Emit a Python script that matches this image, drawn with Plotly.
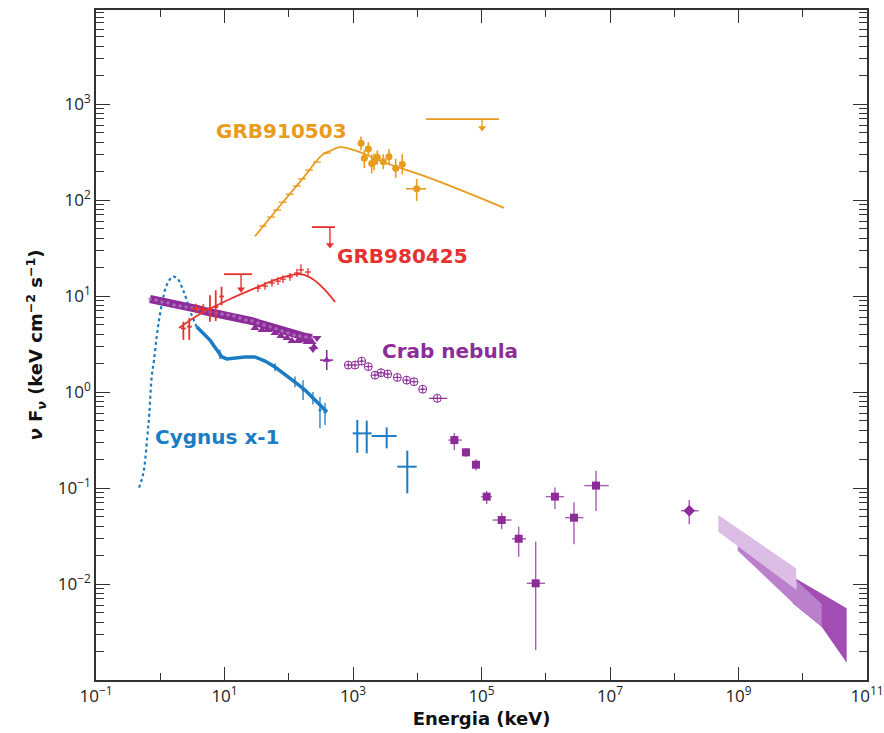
import numpy as np
import plotly.graph_objects as go

# ---------------- data (keV, keV cm^-2 s^-1) ----------------
# GRB910503
grb91_model_E = [29.9, 81, 167, 329, 438, 628, 1150, 2930, 15800, 224000]
grb91_model_F = [42, 95, 169, 294, 324, 356, 324, 249, 169, 83]
grb91_low_E = [39.7, 53, 65.7, 81, 104, 134, 161, 207, 275, 394]
grb91_low_F = [53.6, 66.5, 78.7, 95, 115, 140, 166, 205, 249, 309]
grb91_low_Elo = [35, 46, 57, 70, 90, 116, 140, 180, 240, 342]
grb91_low_Ehi = [45, 61, 76, 93, 120, 154, 185, 238, 316, 453]
grb91_E = [1334, 1730, 1500, 1954, 2123, 2390, 2963, 3631, 4620, 5850, 9800]
grb91_F = [390, 340, 272, 241, 251, 279, 251, 283, 214, 236, 131]
grb91_Elo = [1200, 1560, 1350, 1760, 1910, 2150, 2670, 3270, 4160, 5270, 6680]
grb91_Ehi = [1480, 1920, 1670, 2170, 2360, 2650, 3290, 4030, 5130, 6490, 13700]
grb91_Flo = [330, 290, 215, 190, 205, 235, 210, 235, 170, 185, 98]
grb91_Fhi = [460, 400, 330, 300, 305, 330, 300, 340, 270, 300, 166]
grb91_ul_Elo = [13700]
grb91_ul_Ehi = [187000]
grb91_ul_F = [698]
grb91_ul_Earrow = [102000]
grb91_ul_Fend = [563]

# GRB980425
grb98_model_E = [1.96, 4.16, 12.2, 35.7, 73.1, 150, 238, 394, 525]
grb98_model_F = [4.64, 6.49, 9.31, 12.7, 15.4, 16.9, 15.0, 11.0, 8.66]
grb98_a_E = [2.29, 2.83, 3.6, 4.68, 5.94, 7.3, 9.0]
grb98_a_F = [4.6, 4.8, 7.4, 7.3, 7.4, 7.7, 9.9]
grb98_a_Elo = [2.1, 2.6, 3.0, 4.2, 5.4, 6.7, 8.3]
grb98_a_Ehi = [2.5, 3.1, 4.3, 5.2, 6.5, 8.0, 9.8]
grb98_a_Flo = [3.5, 3.5, 6.6, 6.5, 5.4, 5.5, 8.0]
grb98_a_Fhi = [5.4, 5.9, 8.3, 8.2, 10.2, 11.5, 12.5]
grb98_b_E = [33.2, 42.7, 54.8, 68, 81.3, 104.5, 134, 155, 199]
grb98_b_F = [12.1, 12.7, 13.7, 14.3, 15.0, 15.8, 17.4, 18.7, 17.8]
grb98_b_Elo = [30, 38.5, 49.4, 61.3, 73.3, 94, 121, 140, 179]
grb98_b_Ehi = [36.8, 47.4, 60.8, 75.5, 90.2, 116, 149, 172, 221]
grb98_b_Flo = [11.0, 11.6, 12.5, 13.0, 13.7, 14.4, 15.8, 16.5, 16.2]
grb98_b_Fhi = [13.3, 14.0, 15.1, 15.7, 16.5, 17.4, 19.1, 21.5, 19.6]
grb98_ul_Elo = [9.8, 230]
grb98_ul_Ehi = [26.8, 525]
grb98_ul_F = [16.9, 52.3]
grb98_ul_Earrow = [18.1, 438]
grb98_ul_Fend = [11.8, 34]

# Crab nebula
crab_band_E = [0.692, 0.859, 1.06, 1.32, 1.64, 2.03, 2.52, 3.12, 3.87, 4.80, 5.94, 7.38,
               9.15, 11.3, 14.1, 17.4, 21.6, 26.8, 33.2, 41.2, 51.1, 63.3, 78.5, 97.3,
               121, 150, 185, 230]
crab_band_F = [9.31, 9.08, 8.66, 8.45, 8.05, 7.86, 7.68, 7.50, 7.32, 6.98, 6.81, 6.65,
               6.49, 6.34, 6.19, 5.90, 5.62, 5.49, 5.24, 4.99, 4.76, 4.53, 4.32, 4.12,
               3.92, 3.83, 3.74, 3.65]
crab_tri_E = [29.8, 38.4, 47.5, 61.1, 75.7, 94, 112, 139, 161, 192, 230, 247]
crab_tri_F = [4.64, 4.43, 4.43, 4.12, 3.83, 3.65, 3.40, 3.40, 3.48, 3.32, 3.32, 2.94]
crab_tridown_E = [275, 238]
crab_tridown_F = [3.65, 2.81]
crab_x_E = [390]
crab_x_F = [2.15]
crab_x_Elo = [306]
crab_x_Ehi = [489]
crab_x_Flo = [1.69]
crab_x_Fhi = [2.74]
crab_circ_E = [845, 1075, 1365, 1730, 2198, 2727, 3467, 4896, 6855, 8896, 12150, 20500]
crab_circ_F = [1.91, 1.91, 2.10, 1.84, 1.50, 1.59, 1.54, 1.42, 1.33, 1.28, 1.07, 0.86]
crab_circ_Elo = [800, 1020, 1300, 1640, 2090, 2590, 3290, 4650, 6500, 8450, 11500, 15240]
crab_circ_Ehi = [890, 1130, 1430, 1820, 2310, 2870, 3650, 5150, 7220, 9370, 12800, 29400]
crab_sq_E = [37800, 57400, 82000, 120500, 206000, 379000, 697000, 1.39e6, 2.75e6, 6.06e6]
crab_sq_F = [0.316, 0.2355, 0.175, 0.0813, 0.0464, 0.0296, 0.01017, 0.0813, 0.0491, 0.106]
crab_sq_Elo = [30400, 49800, 74000, 98000, 149000, 298000, 505000, 998000, 2.0e6, 3.98e6]
crab_sq_Ehi = [49200, 66200, 91000, 145600, 295000, 493000, 973000, 1.92e6, 3.85e6, 9.55e6]
crab_sq_Flo = [0.249, 0.21, 0.152, 0.068, 0.0372, 0.0192, 0.00205, 0.0604, 0.0259, 0.0575]
crab_sq_Fhi = [0.374, 0.261, 0.200, 0.093, 0.0553, 0.0396, 0.0276, 0.101, 0.071, 0.151]
crab_dia_E = [1.71e8]
crab_dia_F = [0.058]
crab_dia_Elo = [1.27e8]
crab_dia_Ehi = [2.4e8]
crab_dia_Flo = [0.0419]
crab_dia_Fhi = [0.075]
# Fermi bow-ties (polygon vertices)
fermi_light_E = [4.85e8, 7.85e9, 8.05e9, 4.85e8]
fermi_light_F = [0.0524, 0.01458, 0.00866, 0.0351]
fermi_mid_E = [9.73e8, 7.85e9, 1.97e10, 1.97e10, 6.97e9, 9.73e8]
fermi_mid_F = [0.0255, 0.0110, 0.0062, 0.00359, 0.00638, 0.0222]
fermi_dark_E = [6.97e9, 4.83e10, 4.83e10, 1.97e10, 6.97e9]
fermi_dark_F = [0.0119, 0.00558, 0.00151, 0.00359, 0.0063]

# Cygnus X-1
cyg_dot_E = [0.467, 0.545, 0.629, 0.676, 0.736, 0.80, 0.881, 0.967, 1.09, 1.26, 1.56,
             1.84, 2.16, 2.43, 2.73, 3.09, 3.69]
cyg_dot_F = [0.1007, 0.142, 0.342, 0.600, 1.44, 2.15, 3.77, 5.86, 9.08, 13.0, 15.9,
             15.3, 12.5, 10.2, 8.05, 6.34, 4.79]
cyg_E = [3.69, 4.97, 5.94, 6.7, 7.92, 9.15, 10.9, 14.6, 20.8, 29.8, 42.7, 61.1, 87.5,
         125, 179, 238, 306, 394]
cyg_F = [4.79, 3.92, 3.48, 3.09, 2.61, 2.32, 2.21, 2.26, 2.32, 2.32, 2.10, 1.82, 1.50,
         1.27, 1.05, 0.866, 0.733, 0.619]
cyg_err_E = [8.5, 61, 125, 167, 238, 306, 367]
cyg_err_F = [2.45, 1.82, 1.27, 1.05, 0.866, 0.649, 0.619]
cyg_err_Flo = [2.2, 1.65, 1.12, 0.826, 0.74, 0.42, 0.453]
cyg_err_Fhi = [2.75, 2.0, 1.45, 1.33, 1.0, 0.887, 0.77]
cyg_hi_E = [1167, 1634, 3342, 7000]
cyg_hi_F = [0.371, 0.371, 0.348, 0.1668]
cyg_hi_Elo = [988, 1415, 1954, 4890]
cyg_hi_Ehi = [1415, 1954, 4785, 9795]
cyg_hi_Flo = [0.233, 0.230, 0.259, 0.0881]
cyg_hi_Fhi = [0.511, 0.503, 0.428, 0.245]

# Tick labels
x_tickvals = [1e-1, 1e1, 1e3, 1e5, 1e7, 1e9, 1e11]
x_ticktext = ['10<sup>−1</sup>', '10<sup>1</sup>', '10<sup>3</sup>', '10<sup>5</sup>',
              '10<sup>7</sup>', '10<sup>9</sup>', '10<sup>11</sup>']
y_tickvals = [1e-2, 1e-1, 1e0, 1e1, 1e2, 1e3]
y_ticktext = ['10<sup>−2</sup>', '10<sup>−1</sup>', '10<sup>0</sup>', '10<sup>1</sup>',
              '10<sup>2</sup>', '10<sup>3</sup>']

# ---------------- style ----------------
ORANGE = '#E89B1C'
RED = '#E5322F'
PURPLE = '#8C2C98'
BLUE = '#1B7CC4'
AXC = '#333333'
LABEL_FONT = 'DejaVu Sans'
TICK_FONT = 'Open Sans'


def err(v, lo, hi, color, th=1.6):
    v = np.asarray(v, float)
    return dict(type='data', symmetric=False,
                array=np.asarray(hi, float) - v,
                arrayminus=v - np.asarray(lo, float),
                color=color, thickness=th, width=0)


fig = go.Figure()

# Fermi bowties
for ex, fy, col in [(fermi_dark_E, fermi_dark_F, '#A24DB4'),
                    (fermi_mid_E, fermi_mid_F, '#BA80CC'),
                    (fermi_light_E, fermi_light_F, '#DCBDE6')]:
    fig.add_trace(go.Scatter(x=ex, y=fy, mode='lines', fill='toself', fillcolor=col,
                             line=dict(width=0, color=col), hoverinfo='skip'))

# Cygnus X-1
fig.add_trace(go.Scatter(x=cyg_dot_E, y=cyg_dot_F, mode='lines',
                         line=dict(color=BLUE, width=2.2, dash='dot', shape='spline')))
fig.add_trace(go.Scatter(x=cyg_E, y=cyg_F, mode='lines',
                         line=dict(color=BLUE, width=3.5)))
fig.add_trace(go.Scatter(x=cyg_err_E, y=cyg_err_F, mode='markers',
                         marker=dict(color=BLUE, size=3),
                         error_y=err(cyg_err_F, cyg_err_Flo, cyg_err_Fhi, BLUE, 1.3)))
fig.add_trace(go.Scatter(x=cyg_hi_E, y=cyg_hi_F, mode='markers',
                         marker=dict(color=BLUE, size=1),
                         error_x=err(cyg_hi_E, cyg_hi_Elo, cyg_hi_Ehi, BLUE, 2),
                         error_y=err(cyg_hi_F, cyg_hi_Flo, cyg_hi_Fhi, BLUE, 2)))

# Crab nebula
fig.add_trace(go.Scatter(x=crab_band_E, y=crab_band_F, mode='lines',
                         line=dict(color=PURPLE, width=8)))
fig.add_trace(go.Scatter(x=crab_band_E, y=crab_band_F, mode='markers',
                         marker=dict(color='#B77AC4', size=3, symbol='cross-thin',
                                     line=dict(color='#B77AC4', width=1))))
fig.add_trace(go.Scatter(x=crab_tri_E, y=crab_tri_F, mode='markers',
                         marker=dict(color=PURPLE, size=8, symbol='triangle-up')))
fig.add_trace(go.Scatter(x=crab_tridown_E, y=crab_tridown_F, mode='markers',
                         marker=dict(color=PURPLE, size=8, symbol='triangle-down')))
fig.add_trace(go.Scatter(x=crab_x_E, y=crab_x_F, mode='markers',
                         marker=dict(color=PURPLE, size=7, symbol='triangle-up'),
                         error_x=err(crab_x_E, crab_x_Elo, crab_x_Ehi, PURPLE),
                         error_y=err(crab_x_F, crab_x_Flo, crab_x_Fhi, PURPLE)))
fig.add_trace(go.Scatter(x=crab_circ_E, y=crab_circ_F, mode='markers',
                         marker=dict(color=PURPLE, size=8, symbol='circle-cross-open',
                                     line=dict(width=1)),
                         error_x=err(crab_circ_E, crab_circ_Elo, crab_circ_Ehi, PURPLE, 1.2)))
fig.add_trace(go.Scatter(x=crab_sq_E, y=crab_sq_F, mode='markers',
                         marker=dict(color=PURPLE, size=8, symbol='square'),
                         error_x=err(crab_sq_E, crab_sq_Elo, crab_sq_Ehi, '#A45DB0', 1.4),
                         error_y=err(crab_sq_F, crab_sq_Flo, crab_sq_Fhi, '#A45DB0', 1.4)))
fig.add_trace(go.Scatter(x=crab_dia_E, y=crab_dia_F, mode='markers',
                         marker=dict(color=PURPLE, size=9, symbol='diamond'),
                         error_x=err(crab_dia_E, crab_dia_Elo, crab_dia_Ehi, '#A45DB0', 1.4),
                         error_y=err(crab_dia_F, crab_dia_Flo, crab_dia_Fhi, '#A45DB0', 1.4)))

# GRB980425
fig.add_trace(go.Scatter(x=grb98_model_E, y=grb98_model_F, mode='lines',
                         line=dict(color=RED, width=1.8, shape='spline')))
fig.add_trace(go.Scatter(x=grb98_a_E, y=grb98_a_F, mode='markers',
                         marker=dict(color=RED, size=1),
                         error_x=err(grb98_a_E, grb98_a_Elo, grb98_a_Ehi, RED, 1.8),
                         error_y=err(grb98_a_F, grb98_a_Flo, grb98_a_Fhi, RED, 1.8)))
fig.add_trace(go.Scatter(x=grb98_b_E, y=grb98_b_F, mode='markers',
                         marker=dict(color=RED, size=1),
                         error_x=err(grb98_b_E, grb98_b_Elo, grb98_b_Ehi, RED, 1.3),
                         error_y=err(grb98_b_F, grb98_b_Flo, grb98_b_Fhi, RED, 1.3)))


def upper_limits(elo, ehi, f, earr, fend, color):
    hx, hy, vx, vy = [], [], [], []
    for a, b, c, d, e in zip(elo, ehi, f, earr, fend):
        hx += [a, b, None]
        hy += [c, c, None]
        vx += [d, d, None]
        vy += [c, e, None]
    fig.add_trace(go.Scatter(x=hx, y=hy, mode='lines', line=dict(color=color, width=1.8)))
    fig.add_trace(go.Scatter(x=vx, y=vy, mode='lines', line=dict(color=color, width=1.4)))
    fig.add_trace(go.Scatter(x=earr, y=fend, mode='markers',
                             marker=dict(color=color, size=7, symbol='triangle-down')))


upper_limits(grb98_ul_Elo, grb98_ul_Ehi, grb98_ul_F, grb98_ul_Earrow, grb98_ul_Fend, RED)

# GRB910503
fig.add_trace(go.Scatter(x=grb91_model_E, y=grb91_model_F, mode='lines',
                         line=dict(color=ORANGE, width=1.8, shape='spline')))
fig.add_trace(go.Scatter(x=grb91_low_E, y=grb91_low_F, mode='markers',
                         marker=dict(color=ORANGE, size=1),
                         error_x=err(grb91_low_E, grb91_low_Elo, grb91_low_Ehi, ORANGE, 1.3)))
fig.add_trace(go.Scatter(x=grb91_E, y=grb91_F, mode='markers',
                         marker=dict(color=ORANGE, size=7),
                         error_x=err(grb91_E, grb91_Elo, grb91_Ehi, ORANGE, 1.6),
                         error_y=err(grb91_F, grb91_Flo, grb91_Fhi, ORANGE, 1.6)))
upper_limits(grb91_ul_Elo, grb91_ul_Ehi, grb91_ul_F, grb91_ul_Earrow, grb91_ul_Fend, ORANGE)

# Labels
labels = [('GRB910503', 0.241, 0.819, ORANGE),
          ('GRB980425', 0.397, 0.633, RED),
          ('Crab nebula', 0.459, 0.491, PURPLE),
          ('Cygnus x-1', 0.158, 0.363, BLUE)]
for txt, px, py, col in labels:
    fig.add_annotation(text=f'<b>{txt}</b>', x=px, y=py, xref='paper', yref='paper',
                       showarrow=False, font=dict(family=LABEL_FONT, size=20, color=col),
                       xanchor='center', yanchor='middle')

axis_common = dict(type='log', showgrid=False, zeroline=False, showline=True,
                   linecolor=AXC, linewidth=1.6, mirror='ticks', ticks='inside',
                   tickcolor=AXC, tickwidth=1.4, automargin=False,
                   tickfont=dict(family=TICK_FONT, size=17, color='#222'))

minor_y = [k * 10.0 ** d for d in range(-3, 4) for k in range(2, 10)]
minor_x = [1e0, 1e2, 1e4, 1e6, 1e8, 1e10]

fig.update_layout(
    width=884, height=733,
    margin=dict(l=96, r=17, t=10, b=53),
    plot_bgcolor='white', paper_bgcolor='white',
    showlegend=False,
    xaxis=dict(axis_common, range=[-1, 11], tickmode='array', tickvals=x_tickvals,
               ticktext=x_ticktext, ticklen=13,
               minor=dict(tickmode='array', tickvals=minor_x, ticks='inside', ticklen=7,
                          tickcolor=AXC, tickwidth=1.4),
               title=dict(text='<b>Energia (keV)</b>', standoff=6,
                          font=dict(family=LABEL_FONT, size=18, color='#111'))),
    yaxis=dict(axis_common, range=[-3, 3.98], tickmode='array', tickvals=y_tickvals,
               ticktext=y_ticktext, ticklen=14,
               minor=dict(tickmode='array', tickvals=minor_y, ticks='inside', ticklen=8,
                          tickcolor=AXC, tickwidth=1.2),
               title=dict(text='<b><i>ν</i> F<sub><i>ν</i></sub> (keV cm<sup>−2</sup> s<sup>−1</sup>)</b>',
                          standoff=10,
                          font=dict(family=LABEL_FONT, size=18, color='#111'))),
)

fig.write_html('out.html')
